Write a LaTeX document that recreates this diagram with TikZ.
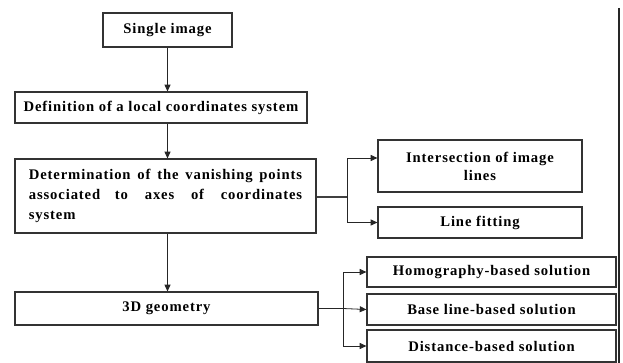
\documentclass[tikz,border=0pt]{standalone}
\usepackage{fontspec}
\setmainfont{Liberation Serif}[LetterSpace=6]
\usetikzlibrary{arrows.meta}

\begin{document}
\begin{tikzpicture}[x=0.75pt, y=-0.75pt,
    every node/.style={font=\bfseries\fontsize{11}{13.5}\selectfont},
    box/.style={draw=black!80, line width=0.9pt, inner sep=2pt, align=center},
    link/.style={-{Triangle[length=5pt,width=4.5pt]}, black!85, line width=0.6pt}]
  \useasboundingbox (0,0) rectangle (623,363);
  % Main column
  \node[box, line width=1.8pt, minimum width=96.75pt, minimum height=25.5pt]
        (single) at (167.5,30) {Single image};
  \node[box, minimum width=219pt, minimum height=23.25pt]
        (local) at (161,107.5) {Definition of a local coordinates system};
  \node[box, minimum width=225.75pt, minimum height=55.5pt, text width=205pt, align=justify,
        font=\bfseries\fontsize{11}{15}\selectfont]
        (vanish) at (165.5,196)
        {\makebox[\linewidth][s]{Determination of the vanishing points}\\
         \makebox[\linewidth][s]{associated\quad to axes of coordinates}\\
         system};
  \node[box, minimum width=227.25pt, minimum height=24.75pt]
        (geom) at (166.5,308.5) {3D geometry};
  % Vanishing point methods
  \node[box, minimum width=153pt, minimum height=39pt]
        (inter) at (480,166) {Intersection of image\\lines};
  \node[box, minimum width=153pt, minimum height=23.25pt]
        (fit) at (480,222.5) {Line fitting};
  % Solutions
  \node[box, minimum width=186.75pt, minimum height=22.5pt]
        (homog) at (491.5,272) {Homography-based solution};
  \node[box, minimum width=186.75pt, minimum height=23.25pt]
        (base) at (491.5,309.5) {Base line-based solution};
  \node[box, minimum width=186.75pt, minimum height=24pt]
        (dist) at (491.5,346) {Distance-based solution};
  \coordinate (jvanish) at (347,197);
  \coordinate (jgeom) at (343,308.5);
  % Connectors
  \draw[link] (single.south) -- (single.south |- local.north);
  \draw[link] (single.south |- local.south) -- (single.south |- vanish.north);
  \draw[link] (single.south |- vanish.south) -- (single.south |- geom.north);
  \draw[black!75, line width=1.8pt] (vanish.east |- jvanish) -- (jvanish);
  \draw[link] (jvanish) |- ([yshift=6pt]inter.west);
  \draw[link] (jvanish) |- (fit.west);
  \draw[black!85, line width=0.6pt] (geom.east) -- (jgeom);
  \draw[link] (jgeom) |- (homog.west);
  \draw[link] (jgeom) -- (base.west);
  \draw[link] (jgeom) |- (dist.west);
  % Right edge
  \draw[black!85, line width=1.5pt] (619,8) -- (619,363);
\end{tikzpicture}
\end{document}
